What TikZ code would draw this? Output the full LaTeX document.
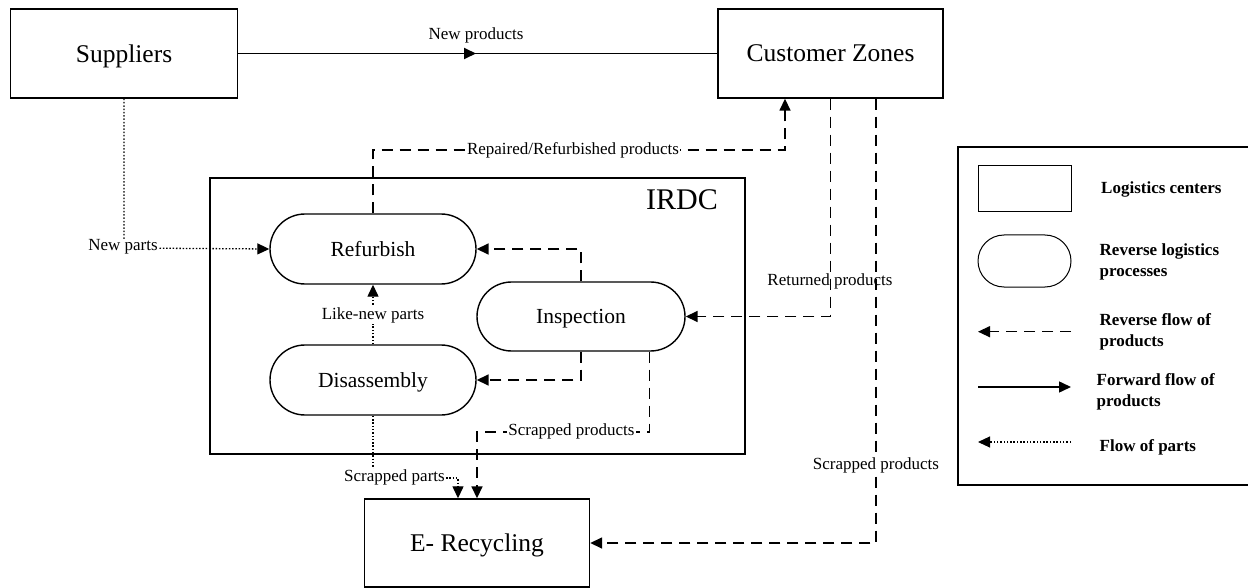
\documentclass[tikz,border=0pt]{standalone}
\usepackage{fontspec}
\setmainfont{Liberation Serif}
\usetikzlibrary{arrows.meta}
\begin{document}
\begin{tikzpicture}[x=1pt,y=-1pt,
  ctr/.style={draw, line width=1.4pt, inner sep=0pt, text depth=0pt, font=\fontsize{25.5}{30}\selectfont},
  proc/.style={draw, line width=1.4pt, rounded corners=35pt, minimum width=206pt, minimum height=70pt, inner sep=0pt, text depth=0pt, font=\fontsize{21.5}{26}\selectfont},
  lbl/.style={font=\fontsize{17}{20}\selectfont, inner sep=1pt},
  lblw/.style={lbl, fill=white},
  leg/.style={font=\bfseries\fontsize{17}{21}\selectfont, align=left, anchor=west, inner sep=0pt},
  rev/.style={line width=1.6pt, dash pattern=on 11pt off 7pt},
  fwd/.style={line width=1.8pt},
  prt/.style={line width=1.3pt, dash pattern=on 1.5pt off 1.8pt},
  tip/.style={-{Triangle[length=12pt,width=11pt]}}
]
\useasboundingbox (0,0) rectangle (1248,588);

% logistics centres
\node[ctr, minimum width=227pt, minimum height=89pt] (sup) at (124,53.5) {Suppliers};
\node[ctr, minimum width=225pt, minimum height=89pt] (cz) at (830.5,53.5) {Customer Zones};
\node[ctr, minimum width=225pt, minimum height=88pt] (er) at (477,543) {E- Recycling};

% IRDC
\node[draw, line width=1.4pt, minimum width=535pt, minimum height=276pt, inner sep=0pt] (irdc) at (477.5,316) {};
\node[font=\fontsize{30}{36}\selectfont, inner sep=0pt] (irdclbl) at (682,200) {IRDC};

% processes
\node[proc] (ref) at (373,249) {Refurbish};
\node[proc] (dis) at (373,380) {Disassembly};
\node[proc, minimum width=208pt, minimum height=69pt, rounded corners=34.5pt] (ins) at (581,316.5) {Inspection};

% forward flow
\draw[fwd] (sup.east) -- (cz.west);
\draw[fwd, tip] (sup.east) -- (476,53.5);
\node[lbl] (np) at (476,35) {New products};

% new parts
\draw[prt, tip] (sup.south) -- (124,248) -- (ref.west);
\node[lblw] (npt) at (123,247) {New parts};

% repaired products
\draw[rev, tip] (ref.north) -- (373,150) -- (785,150) -- ([xshift=-45.5pt]cz.south);
\node[lblw] (rp) at (573,150) {Repaired/Refurbished products};

% inspection -> refurbish
\draw[rev, tip] (ins.north) -- (581,249) -- (ref.east);
% inspection -> disassembly
\draw[rev, tip] (ins.south) -- (581,380) -- (dis.east);
% like-new parts
\draw[prt, tip] (dis.north) -- (ref.south);
\node[lblw] (lnp) at (373,315) {Like-new parts};

% returned products
\draw[rev, tip] (cz.south) -- (830.5,316.5) -- (ins.east);
\node[lbl] (ret) at (830,281) {Returned products};

% scrapped products from customer zones
\draw[rev, tip] ([xshift=45.5pt]cz.south) -- (876,543) -- (er.east);
\node[lblw] (sp1) at (876,465) {Scrapped products};

% scrapped products from inspection
\draw[rev, tip] ([xshift=68.5pt]ins.south) -- (649.5,431.7) -- (477,431.7) -- (er.north);
\node[lblw] (sp2) at (571.5,431.7) {Scrapped products};

% scrapped parts
\draw[prt, tip] (dis.south) -- (373,478) -- (458,478) -- ([xshift=-19pt]er.north);
\node[lblw] (spp) at (394.5,477.7) {Scrapped parts};

% legend (right edge runs past the picture border)
\node[draw, line width=1.2pt, minimum width=296pt, minimum height=338pt, inner sep=0pt] (legbox) at (1106,316) {};
\node[draw, line width=1pt, minimum width=93pt, minimum height=46pt, inner sep=0pt] (lg1) at (1024.5,189) {};
\node[draw, line width=1pt, minimum width=93pt, minimum height=52pt, rounded corners=26pt, inner sep=0pt] (lg2) at (1024.5,261) {};
\node[leg] (t1) at (1101,189) {Logistics centers};
\node[leg] (t2) at (1099.5,261.5) {Reverse logistics\\processes};
\node[leg] (t3) at (1099.5,332) {Reverse flow of\\products};
\node[leg] (t4) at (1096.5,392) {Forward flow of\\products};
\node[leg] (t5) at (1099.5,447) {Flow of parts};

\coordinate (l3a) at (1071,331.7);
\coordinate (l3b) at (978,331.7);
\coordinate (l4a) at (978,387);
\coordinate (l4b) at (1071,387);
\coordinate (l5a) at (1071,442);
\coordinate (l5b) at (978,442);
\draw[rev, line width=1.4pt, tip] (l3a) -- (l3b);
\draw[fwd, line width=1.5pt, tip] (l4a) -- (l4b);
\draw[prt, line width=1.1pt, tip] (l5a) -- (l5b);
\end{tikzpicture}
\end{document}
